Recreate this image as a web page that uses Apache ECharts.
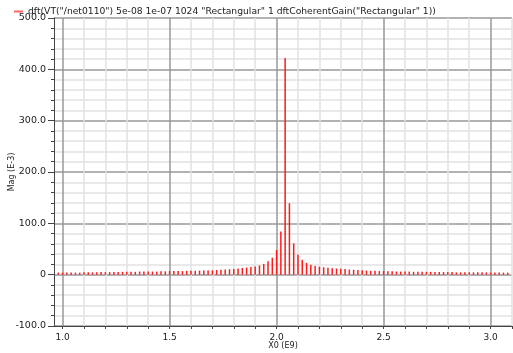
<!DOCTYPE html>
<html>
<head>
<meta charset="utf-8">
<script src="https://cdn.jsdelivr.net/npm/echarts@6/dist/echarts.min.js"></script>
<style>
  html, body { margin: 0; padding: 0; background: #fff; }
  #chart { width: 513px; height: 353px; }
</style>
</head>
<body>
<div id="chart"></div>
<script>
// frequency bins (E9) - 20MHz spacing
const freqs = [
  0.98, 1.00, 1.02, 1.04, 1.06, 1.08, 1.10, 1.12, 1.14, 1.16,
  1.18, 1.20, 1.22, 1.24, 1.26, 1.28, 1.30, 1.32, 1.34, 1.36,
  1.38, 1.40, 1.42, 1.44, 1.46, 1.48, 1.50, 1.52, 1.54, 1.56,
  1.58, 1.60, 1.62, 1.64, 1.66, 1.68, 1.70, 1.72, 1.74, 1.76,
  1.78, 1.80, 1.82, 1.84, 1.86, 1.88, 1.90, 1.92, 1.94, 1.96,
  1.98, 2.00, 2.02, 2.04, 2.06, 2.08, 2.10, 2.12, 2.14, 2.16,
  2.18, 2.20, 2.22, 2.24, 2.26, 2.28, 2.30, 2.32, 2.34, 2.36,
  2.38, 2.40, 2.42, 2.44, 2.46, 2.48, 2.50, 2.52, 2.54, 2.56,
  2.58, 2.60, 2.62, 2.64, 2.66, 2.68, 2.70, 2.72, 2.74, 2.76,
  2.78, 2.80, 2.82, 2.84, 2.86, 2.88, 2.90, 2.92, 2.94, 2.96,
  2.98, 3.00, 3.02, 3.04, 3.06, 3.08
]
// magnitude (E-3)
const mags = [
  4, 4, 4, 4, 4, 4, 4.5, 4.5, 4.5, 4.5,
  5, 5, 5, 5, 5, 5.5, 5.5, 5.5, 5.5, 6,
  6, 6, 6, 6, 6.5, 6.5, 7, 7, 7, 7,
  7.5, 7.5, 7.5, 8, 8, 8, 8.5, 9, 9.5, 10,
  10.5, 11, 12, 13, 14, 15, 16, 18, 21, 26,
  33, 48, 84, 422, 139, 61, 39, 29, 23, 19.5,
  17, 15.5, 14.5, 13.5, 12.5, 12, 11.5, 11, 10, 9.5,
  9, 8.5, 8, 7.5, 7.5, 7, 7, 6.5, 6.5, 6,
  6, 6, 6, 5.5, 5.5, 5.5, 5.5, 5.5, 5, 5,
  5, 5, 5, 4.5, 4.5, 4.5, 4.5, 4.5, 4.5, 4.5,
  4.5, 4, 4, 4, 4, 4
]
const xTicks = [1.0, 1.1, 1.2, 1.3, 1.4, 1.5, 1.6, 1.7, 1.8, 1.9, 2.0, 2.1, 2.2, 2.3, 2.4, 2.5, 2.6, 2.7, 2.8, 2.9, 3.0, 3.1]
const xLabels = [1.0, 1.5, 2.0, 2.5, 3.0]
const seriesName = 'dft(VT("/net0110") 5e-08 1e-07 1024 "Rectangular" 1 dftCoherentGain("Rectangular" 1))'

const font = 'DejaVu Sans'
const major = '#999'
const minor = '#e2e2e2'

const chart = echarts.init(document.getElementById('chart'))
chart.setOption({
  animation: false,
  legend: {
    left: 9,
    top: 2,
    itemWidth: 9,
    itemHeight: 2,
    itemGap: 4,
    icon: 'rect',
    textStyle: { fontFamily: font, fontSize: 9.2, color: '#222' },
    data: [{ name: seriesName, itemStyle: { color: '#ff6666' } }]
  },
  grid: {
    left: 54,
    right: 1,
    top: 18,
    bottom: 27,
    outerBoundsMode: 'none'
  },
  xAxis: {
    type: 'value',
    min: 0.96,
    max: 3.1,
    name: 'X0 (E9)',
    nameLocation: 'middle',
    nameGap: 16,
    nameMoveOverlap: false,
    nameTextStyle: { fontFamily: font, fontSize: 8, color: '#222' },
    axisLine: { show: true, onZero: false, lineStyle: { color: '#444' } },
    axisTick: { show: true, length: 3, customValues: xTicks, lineStyle: { color: '#444' } },
    axisLabel: {
      customValues: xLabels,
      margin: 7,
      fontFamily: font,
      fontSize: 9,
      color: '#222',
      formatter: v => v.toFixed(1)
    },
    splitLine: {
      show: true,
      lineStyle: { color: [major, minor, minor, minor, minor], width: 1.5 }
    }
  },
  yAxis: {
    type: 'value',
    min: -100,
    max: 500,
    interval: 100,
    name: 'Mag (E-3)',
    nameLocation: 'middle',
    nameGap: 38,
    nameMoveOverlap: false,
    nameTextStyle: { fontFamily: font, fontSize: 8, color: '#222' },
    axisLine: { show: true, lineStyle: { color: '#444' } },
    axisTick: { show: true, length: 6, lineStyle: { color: '#444' } },
    minorTick: { show: true, splitNumber: 5, length: 3, lineStyle: { color: '#444' } },
    axisLabel: {
      margin: 8,
      fontFamily: font,
      fontSize: 9.5,
      color: '#222',
      formatter: v => (v === 0 ? '0' : v.toFixed(1))
    },
    splitLine: { show: true, lineStyle: { color: major, width: 1.5 } },
    minorSplitLine: { show: true, lineStyle: { color: minor, width: 1.5 } }
  },
  series: [{
    name: seriesName,
    type: 'bar',
    barWidth: 1.5,
    itemStyle: { color: '#ff1a1a' },
    data: freqs.map((f, i) => [f, mags[i]])
  }]
})
</script>
</body>
</html>
